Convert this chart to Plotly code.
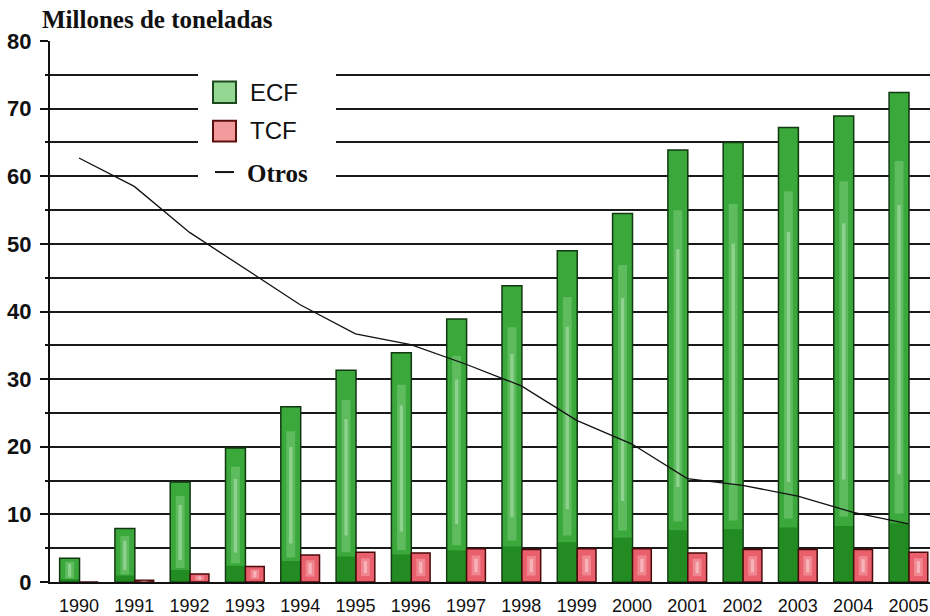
import plotly.graph_objects as go

# Pulp production by bleaching process (million tonnes)
years = ["1990", "1991", "1992", "1993", "1994", "1995", "1996", "1997",
         "1998", "1999", "2000", "2001", "2002", "2003", "2004", "2005"]
ecf = [3.5, 7.9, 14.8, 19.8, 25.9, 31.3, 33.9, 38.9, 43.8, 49.0, 54.5,
       63.9, 65.0, 67.2, 68.9, 72.4]
tcf = [0.0, 0.25, 1.2, 2.3, 4.0, 4.4, 4.3, 4.9, 4.8, 4.9, 4.9, 4.3,
       4.8, 4.8, 4.8, 4.4]
otros = [62.7, 58.5, 51.7, 46.4, 41.0, 36.7, 35.1, 32.2, 29.0, 23.9, 20.4,
         15.3, 14.3, 12.7, 10.3, 8.6]

y_ticks = [0, 10, 20, 30, 40, 50, 60, 70, 80]

W, H = 930, 616
L, R, T, B = 50, 0, 41, 26
PW, PH = W - L - R, H - T - B


def px(x):
    return (x - L) / PW


def py(y):
    return (H - B - y) / PH


fig = go.Figure()

# ECF bars (left of each year)
fig.add_trace(go.Bar(
    x=years, y=ecf, offset=-0.35, width=0.36,
    marker=dict(color="#3aa83a", line=dict(color="#123812", width=1.5)),
    showlegend=False, hoverinfo="x+y", name="ECF",
))
# darker foot of each ECF bar, kept inside the outline
fig.add_trace(go.Bar(
    x=years, y=[v * 0.12 for v in ecf], offset=-0.337, width=0.334,
    marker=dict(color="rgba(10,110,10,0.5)", line=dict(width=0)),
    showlegend=False, hoverinfo="skip",
))
# soft cylindrical sheen, two layers
fig.add_trace(go.Bar(
    x=years, y=[v * 0.72 for v in ecf], base=[v * 0.14 for v in ecf],
    offset=-0.25, width=0.16,
    marker=dict(color="rgba(190,240,190,0.28)", line=dict(width=0)),
    showlegend=False, hoverinfo="skip",
))
fig.add_trace(go.Bar(
    x=years, y=[v * 0.55 for v in ecf], base=[v * 0.22 for v in ecf],
    offset=-0.2, width=0.06,
    marker=dict(color="rgba(235,252,235,0.35)", line=dict(width=0)),
    showlegend=False, hoverinfo="skip",
))

# TCF bars (right of each year)
fig.add_trace(go.Bar(
    x=years, y=tcf, offset=0.01, width=0.34,
    marker=dict(color="#e9606c", line=dict(color="#4a0a0a", width=1.5)),
    showlegend=False, hoverinfo="x+y", name="TCF",
))
fig.add_trace(go.Bar(
    x=years, y=[v * 0.6 for v in tcf], base=[v * 0.2 for v in tcf],
    offset=0.1, width=0.16,
    marker=dict(color="rgba(255,205,210,0.35)", line=dict(width=0)),
    showlegend=False, hoverinfo="skip",
))
fig.add_trace(go.Bar(
    x=years, y=[v * 0.4 for v in tcf], base=[v * 0.3 for v in tcf],
    offset=0.15, width=0.06,
    marker=dict(color="rgba(255,235,238,0.45)", line=dict(width=0)),
    showlegend=False, hoverinfo="skip",
))

# Other processes
fig.add_trace(go.Scatter(
    x=years, y=otros, mode="lines",
    line=dict(color="#111111", width=1.3),
    showlegend=False, name="Otros",
))

shapes = [
    # legend background
    dict(type="rect", xref="paper", yref="paper", layer="above",
         x0=px(198), x1=px(336), y0=py(200), y1=py(57),
         fillcolor="white", line=dict(width=0)),
    dict(type="rect", xref="paper", yref="paper", layer="above",
         x0=px(213), x1=px(236), y0=py(104), y1=py(82),
         fillcolor="#93d793", line=dict(color="#1d4a1d", width=2)),
    dict(type="rect", xref="paper", yref="paper", layer="above",
         x0=px(213), x1=px(236), y0=py(143), y1=py(122),
         fillcolor="#f29a9c", line=dict(color="#5c0f0f", width=2)),
    dict(type="line", xref="paper", yref="paper", layer="above",
         x0=px(215), x1=px(234), y0=py(174), y1=py(174),
         line=dict(color="#111111", width=2)),
]

annotations = [
    dict(text="<b>Millones de toneladas</b>", xref="paper", yref="paper",
         x=px(40), y=py(19), xanchor="left", yanchor="middle",
         showarrow=False,
         font=dict(family="Liberation Serif, Times New Roman, serif",
                   size=25, color="#111111")),
    dict(text="ECF", xref="paper", yref="paper", x=px(248), y=py(93),
         xanchor="left", yanchor="middle", showarrow=False,
         font=dict(family="Liberation Sans, Arial, sans-serif", size=24,
                   color="#111111")),
    dict(text="TCF", xref="paper", yref="paper", x=px(248), y=py(132),
         xanchor="left", yanchor="middle", showarrow=False,
         font=dict(family="Liberation Sans, Arial, sans-serif", size=24,
                   color="#111111")),
    dict(text="<b>Otros</b>", xref="paper", yref="paper", x=px(245), y=py(175),
         xanchor="left", yanchor="middle", showarrow=False,
         font=dict(family="Liberation Serif, Times New Roman, serif",
                   size=25, color="#111111")),
]

fig.update_layout(
    width=W, height=H, autosize=False,
    margin=dict(l=L, r=R, t=T, b=B, pad=0),
    paper_bgcolor="white", plot_bgcolor="white",
    barmode="overlay",
    shapes=shapes, annotations=annotations,
    showlegend=False,
)

fig.update_xaxes(
    type="category", range=[-0.524, 15.39],
    showgrid=False, zeroline=False,
    showline=True, linecolor="#111111", linewidth=2,
    ticks="", ticklabelstandoff=6,
    tickfont=dict(family="Liberation Sans, Arial, sans-serif",
                  size=18, color="#111111"),
)

fig.update_yaxes(
    range=[0, 80], tickvals=y_ticks,
    showgrid=True, gridcolor="#1a1a1a", gridwidth=1.5,
    zeroline=False,
    showline=True, linecolor="#111111", linewidth=2,
    ticks="outside", ticklen=8, tickwidth=2, tickcolor="#111111",
    ticklabelstandoff=4,
    tickfont=dict(family="Liberation Sans, Arial, sans-serif", size=22,
                  color="#111111", weight="bold"),
    minor=dict(dtick=5, tick0=0, showgrid=True, gridcolor="#1a1a1a",
               gridwidth=1.5, ticks="outside", ticklen=3, tickwidth=2,
               tickcolor="#111111"),
)

fig.write_html("out.html")
